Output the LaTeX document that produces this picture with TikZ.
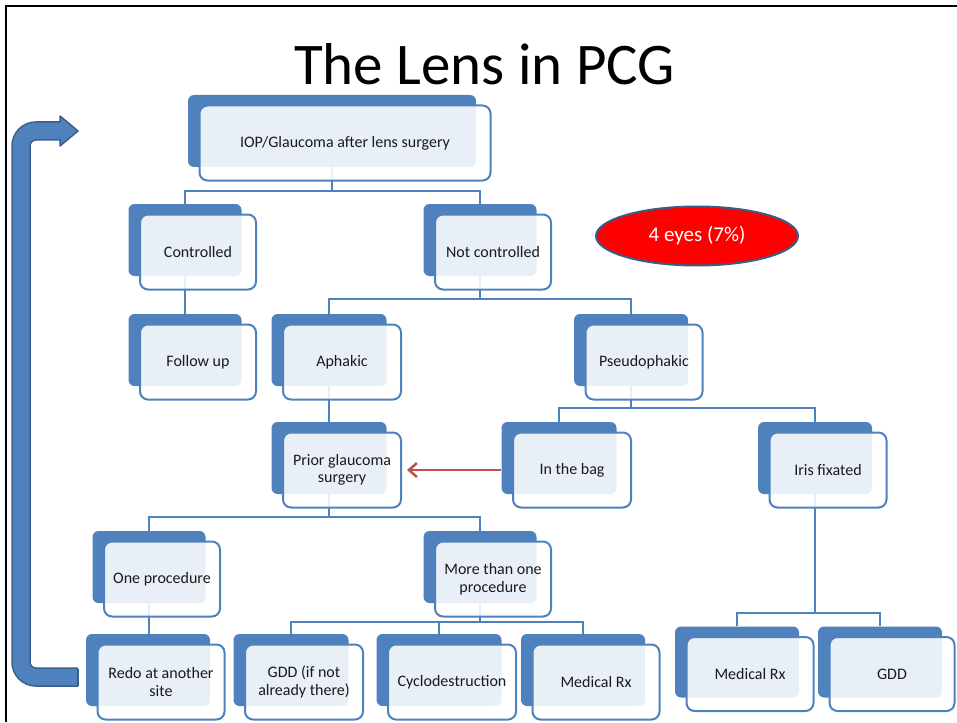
\documentclass[tikz,border=0pt]{standalone}
\usepackage{fontspec}
\setmainfont{Carlito}
\usetikzlibrary{arrows.meta,shapes.geometric,calc}
\definecolor{accent}{HTML}{4F81BD}
\definecolor{accentdark}{HTML}{385D8A}
\definecolor{redline}{HTML}{C0504D}
\definecolor{txt}{HTML}{1A1A1A}
\tikzset{
  backbox/.style={fill=accent, draw=none, rounded corners=6pt, inner sep=0pt},
  frontbox/.style={fill=white, fill opacity=0.88, text opacity=1, draw=accent, line width=2pt,
    rounded corners=8pt, inner sep=0pt, align=center, text=txt, font=\fontsize{16}{17.5}\selectfont},
  conn/.style={draw=accent, line width=2pt},
  redarrow/.style={draw=redline, line width=2.5pt, -{Straight Barb[length=8pt,width=14pt,line width=2.5pt]}},
  framerule/.style={draw=black, line width=2.5pt},
  arrowborder/.style={draw=accentdark, line width=1.5pt},
}
\begin{document}
\begin{tikzpicture}[x=1pt,y=-1pt]
\useasboundingbox (0,0) rectangle (957,722);
\draw[framerule] (6,722) -- (6,6) -- (957,6);

% title
\node[anchor=base, font=\fontsize{59}{70}\selectfont, inner sep=0pt, text=black] (title) at (484.5,85) {The Lens in PCG};

% big return arrow
\draw[accentdark, line width=19.5pt, rounded corners=15pt] (78,677) -- (21,677) -- (21,131) -- (61,131);
\draw[accent, line width=16.5pt, rounded corners=15pt] (78,677) -- (21,677) -- (21,131) -- (61,131);
\fill[accent] (60,116) -- (78,131) -- (60,146) -- cycle;
\draw[arrowborder, line join=round] (60,122.5) -- (60,116) -- (78,131) -- (60,146) -- (60,139.5);
\draw[arrowborder] (78,668.5) -- (78,685.5);

% back boxes
\node[backbox, minimum width=288pt, minimum height=72pt] (top-b) at (332,131) {};
\node[backbox, minimum width=113pt, minimum height=72pt] (ctl-b) at (185,240) {};
\node[backbox, minimum width=113pt, minimum height=72pt] (nc-b) at (480,240) {};
\node[backbox, minimum width=113pt, minimum height=72pt] (fu-b) at (185,350) {};
\node[backbox, minimum width=115pt, minimum height=72pt] (aph-b) at (329,350) {};
\node[backbox, minimum width=114pt, minimum height=72pt] (pse-b) at (631,350) {};
\node[backbox, minimum width=115pt, minimum height=72pt] (pri-b) at (329,458) {};
\node[backbox, minimum width=115pt, minimum height=72pt] (bag-b) at (559,458) {};
\node[backbox, minimum width=114pt, minimum height=72pt] (iris-b) at (815,458) {};
\node[backbox, minimum width=113pt, minimum height=72pt] (one-b) at (149,567) {};
\node[backbox, minimum width=113pt, minimum height=72pt] (more-b) at (480,567) {};
\node[backbox, minimum width=124pt, minimum height=72pt] (redo-b) at (148,670) {};
\node[backbox, minimum width=115pt, minimum height=72pt] (gdd-b) at (291,670) {};
\node[backbox, minimum width=125pt, minimum height=72pt] (cyc-b) at (439,670) {};
\node[backbox, minimum width=124pt, minimum height=72pt] (mrx-b) at (583,670) {};
\node[backbox, minimum width=124pt, minimum height=71pt] (mrx2-b) at (737,662) {};
\node[backbox, minimum width=124pt, minimum height=71pt] (gdd2-b) at (880,662) {};

% connectors
\draw[conn] (top-b.south) -- ++(0,24) coordinate (j1);
\draw[conn] (ctl-b.north) |- (j1) -| (nc-b.north);
\draw[conn] (ctl-b.south) -- (fu-b.north);
\draw[conn] (nc-b.south) -- ++(0,23) coordinate (j2);
\draw[conn] (aph-b.north) |- (j2) -| (pse-b.north);
\draw[conn] (aph-b.south) -- (pri-b.north);
\draw[conn] (pse-b.south) -- ++(0,22) coordinate (j3);
\draw[conn] (bag-b.north) |- (j3) -| (iris-b.north);
\draw[conn] (pri-b.south) -- ++(0,23) coordinate (j4);
\draw[conn] (one-b.north) |- (j4) -| (more-b.north);
\draw[conn] (one-b.south) -- (one-b.south |- redo-b.north);
\draw[conn] (more-b.south) -- ++(0,19) coordinate (j5);
\draw[conn] (gdd-b.north) |- (j5) -| (mrx-b.north);
\draw[conn] (cyc-b.north) -- (cyc-b.north |- j5);
\draw[conn] (iris-b.south) -- ++(0,119) coordinate (j6);
\draw[conn] (mrx2-b.north) |- (j6) -| (gdd2-b.north);

% front boxes
\node[frontbox, minimum width=291pt, minimum height=75pt] (top) at (345,143) {IOP/Glaucoma after lens surgery};
\node[frontbox, minimum width=116pt, minimum height=75pt] (ctl) at (198,252) {Controlled};
\node[frontbox, minimum width=116pt, minimum height=75pt] (nc) at (493,252) {Not controlled};
\node[frontbox, minimum width=116pt, minimum height=75pt] (fu) at (198,362) {Follow up};
\node[frontbox, minimum width=118pt, minimum height=75pt] (aph) at (342,362) {Aphakic};
\node[frontbox, minimum width=117pt, minimum height=75pt] (pse) at (644,362) {Pseudophakic};
\node[frontbox, minimum width=118pt, minimum height=75pt] (pri) at (342,470) {Prior glaucoma\\surgery};
\node[frontbox, minimum width=118pt, minimum height=75pt] (bag) at (572,470) {In the bag};
\node[frontbox, minimum width=117pt, minimum height=75pt] (iris) at (828,470) {Iris fixated};
\node[frontbox, minimum width=116pt, minimum height=75pt] (one) at (162,579) {One procedure};
\node[frontbox, minimum width=116pt, minimum height=75pt] (more) at (493,579) {More than one\\procedure};
\node[frontbox, minimum width=127pt, minimum height=75pt] (redo) at (161,682) {Redo at another\\site};
\node[frontbox, minimum width=118pt, minimum height=75pt] (gdd) at (304,682) {GDD (if not\\already there)};
\node[frontbox, minimum width=128pt, minimum height=75pt] (cyc) at (452,682) {Cyclodestruction};
\node[frontbox, minimum width=127pt, minimum height=75pt] (mrx) at (596,682) {Medical Rx};
\node[frontbox, minimum width=127pt, minimum height=74pt] (mrx2) at (750,674) {Medical Rx};
\node[frontbox, minimum width=125pt, minimum height=74pt] (gdd2) at (892,674) {GDD};

% red arrow
\draw[redarrow] (bag-b.west |- bag.center) -- ([xshift=5pt]pri.east);

% ellipse
\node[ellipse, fill=red, draw=accentdark, line width=2pt, minimum width=202pt, minimum height=59pt,
  inner sep=0pt, text=white, font=\fontsize{21}{25}\selectfont] (eyes) at (697,236) {4 eyes (7\%)};
\end{tikzpicture}
\end{document}
